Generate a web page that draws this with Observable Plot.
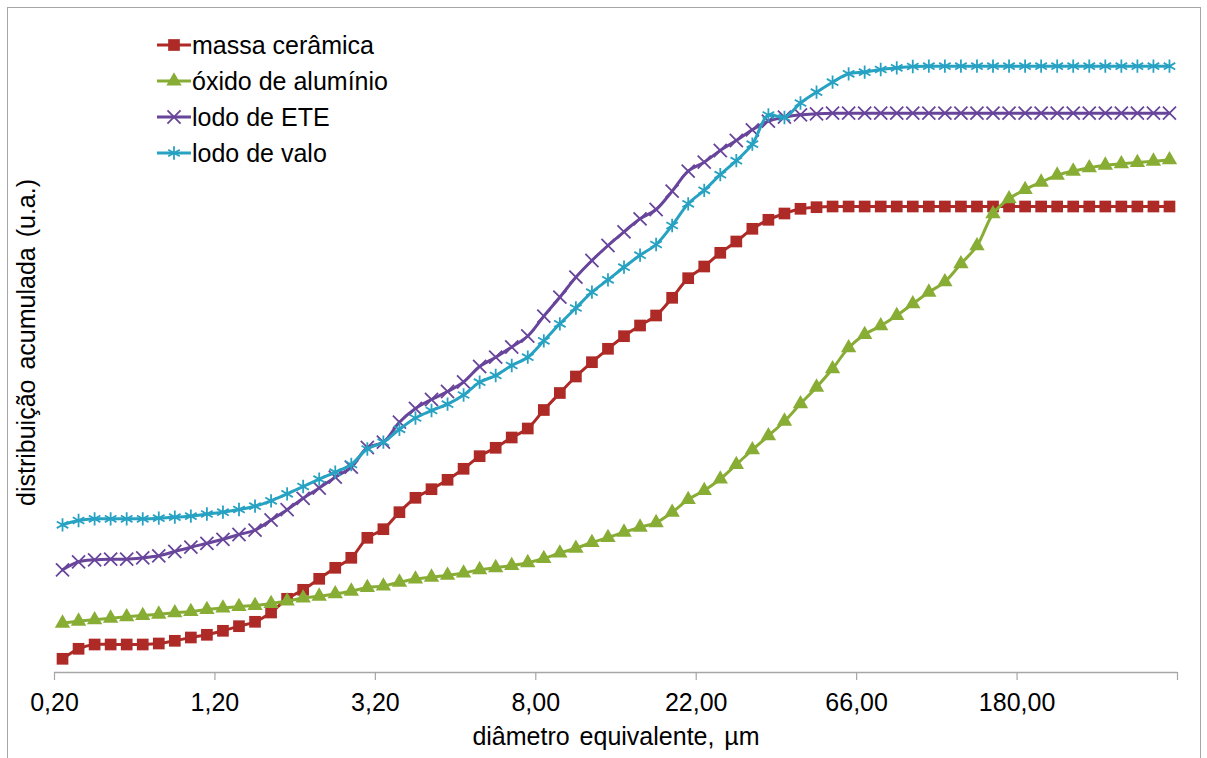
<!DOCTYPE html>
<html><head><meta charset="utf-8">
<script src="https://cdn.jsdelivr.net/npm/d3@7"></script>
<script src="https://cdn.jsdelivr.net/npm/@observablehq/plot@0.6"></script>
<style>
body{margin:0;background:#fff;font-family:"Liberation Sans",Arial,sans-serif;}
#wrap{position:relative;width:1207px;height:758px;overflow:hidden;background:#fff}
#frame{position:absolute;left:7px;top:7px;width:1194px;height:800px;border:1px solid #a6a6a6;box-sizing:border-box}
#chart{position:absolute;left:0;top:0}
#legend{position:absolute;left:156px;top:27px;}
.row{display:flex;align-items:center;height:36px;line-height:36px;font-size:25px;color:#000;white-space:nowrap}
.row svg{display:block}
</style></head><body>
<div id="wrap"><div id="frame"></div><div id="chart"></div><div id="legend"></div></div>
<script>
// category tick labels (diâmetro equivalente, µm), one every 10 categories
const xLabels = ["0,20","1,20","3,20","8,00","22,00","66,00","180,00"];
const seriesNames = ["massa cerâmica","óxido de alumínio","lodo de ETE","lodo de valo"];
const seriesColors = ["#ad2a27","#88ad35","#68459b","#27a2c2"];
const seriesSymbols = ["square","triangle","times","asterisk"];

// cumulative distribution values (u.a.), 70 categories each
const massaCeramica = [
  13.7, 23.7, 28, 28, 28, 28, 29, 31.7, 35, 37.7,
  41.7, 46.3, 50.7, 60, 73.7, 82.7, 93.7, 104.7, 114.7, 134.7,
  143.3, 160.3, 174.7, 183.3, 192.7, 203.7, 216.3, 224.7, 235, 244,
  262.5, 279.5, 296, 310.3, 323.7, 336.3, 347, 357, 374.7, 394.3,
  406, 419.7, 431, 443.7, 452.7, 459, 463.7, 465.3, 466, 466,
  466, 466, 466, 466, 466, 466, 466, 466, 466, 466,
  466, 466, 466, 466, 466, 466, 466, 466, 466, 466
];
const oxidoAluminio = [
  49.3, 51.3, 52.7, 54.3, 55.7, 57, 58.3, 59.7, 61, 63,
  64.5, 66, 67, 69, 71.5, 74.5, 76.3, 78.7, 81.3, 85,
  86.5, 90.3, 93.5, 95.3, 97.2, 99.5, 102.8, 104.8, 107, 109.8,
  114, 119.5, 124.2, 130, 135, 140.3, 145.3, 149.8, 160.2, 173,
  182, 193.5, 208, 222.7, 236.7, 251.3, 268.7, 285.3, 303.7, 324.7,
  338, 346.7, 357, 368.7, 380.3, 390.7, 408.7, 426.7, 458.7, 473.7,
  483, 490.3, 497.3, 501.3, 504.7, 507.3, 508.7, 510, 511.3, 512.7
];
const lodoETE = [
  102.7, 110.7, 112.7, 113.3, 113.3, 114.7, 116.7, 121, 125.3, 129.2,
  133.2, 138, 142.3, 152.5, 162.8, 174.2, 184.5, 195.3, 205.3, 225,
  230.3, 250.3, 264, 273, 281, 290.5, 306, 315.3, 325.5, 336.5,
  356.3, 375.3, 395.3, 412, 427, 440.7, 453.7, 463, 481.3, 501.3,
  510.3, 522, 532, 542.7, 551.3, 555.3, 557.7, 558.7, 559.3, 559.3,
  559.3, 559.3, 559.3, 559.3, 559.3, 559.3, 559.3, 559.3, 559.3, 559.3,
  559.3, 559.3, 559.3, 559.3, 559.3, 559.3, 559.3, 559.3, 559.3, 559.3
];
const lodoValo = [
  147.7, 152, 153.7, 153.7, 153.7, 153.7, 154.3, 155.3, 156.3, 158.5,
  160.3, 163, 166.3, 171.7, 178.7, 186, 193.3, 200.3, 208, 223.5,
  230.3, 243.2, 254.5, 262, 268.3, 277.5, 290.3, 297, 307, 315.3,
  331.7, 348.7, 364.5, 380.3, 392.7, 405.3, 417.3, 428, 447, 468.7,
  482.2, 497.8, 511.8, 528.3, 557.5, 555, 569.5, 580.3, 590.3, 598.7,
  600.3, 603, 604.7, 606, 606.3, 606.3, 606.3, 606.3, 606.3, 606.3,
  606.3, 606.3, 606.3, 606.3, 606.3, 606.3, 606.3, 606.3, 606.3, 606.3
];
const allSeries = [massaCeramica, oxidoAluminio, lodoETE, lodoValo];

const nCat = massaCeramica.length;
const tickPos = d3.range(0, nCat + 1, 10);
const labelAt = new Map(xLabels.map((l, k) => [k * 10, l]));

const symbolR = {square: 6.6, triangle: 5.7, times: 6.0, asterisk: 6.3};
const strokeSym = s => s === "times" || s === "asterisk";
const lineW = 3;
const symW = 1.8;

const marks = [
  Plot.ruleY([0], {stroke: "#a6a6a6", strokeWidth: 1.4}),
  Plot.axisX(tickPos, {tickSize: 8, tickPadding: 13, stroke: "#a6a6a6", strokeWidth: 1.2,
    tickFormat: d => labelAt.get(d) ?? "", fontSize: 25, fill: "#000", label: null}),
];
allSeries.forEach((vals, s) => {
  const rows = vals.map((v, i) => ({c: i + 0.5, v}));
  const sym = seriesSymbols[s];
  marks.push(Plot.line(rows, {x: "c", y: "v", stroke: seriesColors[s], strokeWidth: lineW, curve: "catmull-rom"}));
  marks.push(Plot.dot(rows, strokeSym(sym)
    ? {x: "c", y: "v", symbol: sym, r: symbolR[sym], stroke: seriesColors[s], strokeWidth: symW, fill: "none"}
    : {x: "c", y: "v", symbol: sym, r: symbolR[sym], fill: seriesColors[s], stroke: "none"}));
});
marks.push(Plot.text(["diâmetro equivalente, µm"], {frameAnchor: "bottom", dy: 72, fontSize: 25, fill: "#000"}));
marks.push(Plot.text(["distribuição acumulada (u.a.)"], {frameAnchor: "left", textAnchor: "middle", dx: -28, rotate: -90, fontSize: 25, fill: "#000"}));

const plot = Plot.plot({
  width: 1207, height: 758,
  marginLeft: 54, marginRight: 30, marginTop: 12, marginBottom: 86,
  style: {fontFamily: "Liberation Sans, Arial, sans-serif", background: "transparent", color: "#000"},
  x: {domain: [0, nCat], axis: null},
  y: {domain: [0, 660], axis: null},
  marks
});
plot.querySelectorAll("text").forEach(t => t.style.wordSpacing = "3px");
document.getElementById("chart").appendChild(plot);

// legend
const leg = d3.select("#legend");
seriesNames.forEach((name, s) => {
  const row = leg.append("div").attr("class", "row");
  const svg = row.append("svg").attr("width", 36).attr("height", 36);
  svg.append("line").attr("x1", 1).attr("x2", 35).attr("y1", 18).attr("y2", 18)
    .attr("stroke", seriesColors[s]).attr("stroke-width", lineW);
  const sym = seriesSymbols[s];
  const d3sym = {square: d3.symbolSquare, triangle: d3.symbolTriangle, times: d3.symbolTimes, asterisk: d3.symbolAsterisk}[sym];
  const p = svg.append("path").attr("transform", "translate(18,18)")
    .attr("d", d3.symbol(d3sym, Math.PI * symbolR[sym] ** 2)());
  if (strokeSym(sym)) p.attr("fill", "none").attr("stroke", seriesColors[s]).attr("stroke-width", symW);
  else p.attr("fill", seriesColors[s]);
  row.append("span").text(name);
});
</script>
</body></html>
